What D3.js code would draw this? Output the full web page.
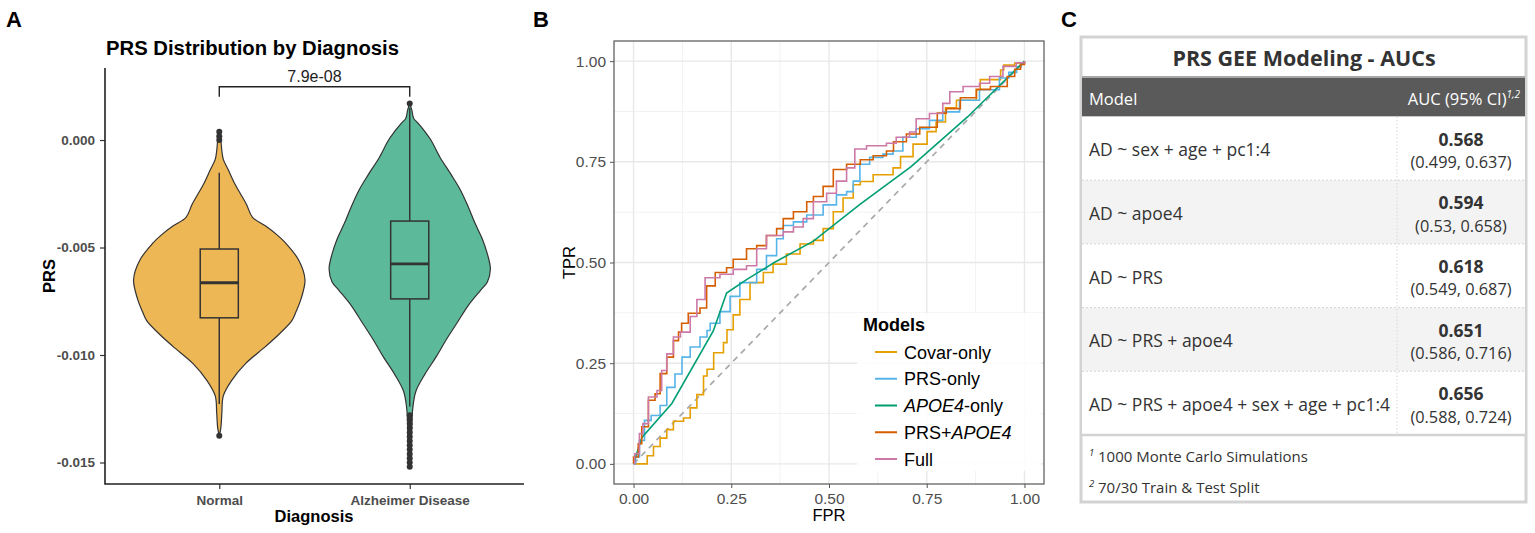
<!DOCTYPE html>
<html>
<head>
<meta charset="utf-8">
<script src="https://cdn.jsdelivr.net/npm/d3@7"></script>
<style>
  body { margin: 0; background: #fff; }
  svg { display: block; }
</style>
</head>
<body>
<svg id="fig" width="1535" height="533"></svg>
<script>
// ---- panel A data ----
var groups = ["Normal", "Alzheimer Disease"];
var groupFill = ["#EEB755", "#5CB99A"];
var prsTicks = [0, -0.005, -0.010, -0.015];

// violin outlines: [PRS value, relative density]
var normalDensity = [[0.0004, 0], [0.0000, 0.018], [-0.0005, 0.03], [-0.0009, 0.047], [-0.0014, 0.106],
  [-0.0020, 0.176], [-0.0025, 0.247], [-0.0030, 0.318], [-0.0036, 0.388], [-0.0040, 0.541],
  [-0.0044, 0.671], [-0.0048, 0.776], [-0.0056, 0.929], [-0.0065, 1.0], [-0.0074, 0.953],
  [-0.0080, 0.894], [-0.0084, 0.847], [-0.0090, 0.706], [-0.0096, 0.541], [-0.0104, 0.306],
  [-0.0112, 0.141], [-0.0119, 0.047], [-0.0127, 0.03], [-0.0134, 0.018], [-0.01375, 0]];
var adDensity = [[0.0017, 0], [0.0014, 0.024], [0.0010, 0.047], [0.0008, 0.094], [0.0004, 0.176],
  [0.0000, 0.247], [-0.0008, 0.353], [-0.0016, 0.482], [-0.0023, 0.588], [-0.0031, 0.682],
  [-0.0039, 0.765], [-0.0046, 0.847], [-0.0053, 0.906], [-0.0060, 0.941], [-0.0066, 0.906],
  [-0.0070, 0.824], [-0.0077, 0.682], [-0.0085, 0.553], [-0.0093, 0.424], [-0.0101, 0.306],
  [-0.0109, 0.176], [-0.0117, 0.071], [-0.0125, 0.035], [-0.0133, 0.024], [-0.0141, 0.018], [-0.01516, 0]];

// box stats: whisker low, q1, median, q3, whisker high
var normalBox = [-0.01228, -0.00827, -0.00664, -0.00507, -0.00152];
var adBox = [-0.0124, -0.00739, -0.00576, -0.00377, 0.0015];
var normalOutliers = [0.00039, 0.00018, 0.0000, -0.01375];
var adOutliers = [0.0017, -0.0128, -0.0130, -0.0132, -0.0134, -0.0136, -0.0138, -0.0140, -0.0142,
  -0.0144, -0.0146, -0.0148, -0.0150, -0.0152];
var pLabel = "7.9e-08";

// ---- panel B data ----
var modelNames = ["Covar-only", "PRS-only", "APOE4-only", "PRS+APOE4", "Full"];
var modelColors = ["#E69F00", "#56B4E9", "#009E73", "#D55E00", "#CC79A7"];
var rocTicks = [0, 0.25, 0.5, 0.75, 1];

var rocCovar = [[0,0],[0.024,0],[0.035,0.02],[0.051,0.043],[0.068,0.064],[0.085,0.085],[0.102,0.106],
  [0.128,0.114],[0.145,0.139],[0.162,0.172],[0.179,0.218],[0.188,0.235],[0.205,0.276],[0.23,0.301],
  [0.239,0.333],[0.255,0.37],[0.272,0.408],[0.298,0.45],[0.332,0.475],[0.357,0.496],[0.391,0.521],
  [0.426,0.546],[0.46,0.555],[0.485,0.584],[0.511,0.626],[0.536,0.66],[0.562,0.693],[0.58,0.701],
  [0.613,0.718],[0.664,0.735],[0.683,0.763],[0.715,0.794],[0.751,0.825],[0.774,0.849],[0.798,0.884],
  [0.826,0.903],[0.877,0.929],[0.887,0.954],[0.939,0.978],[0.947,0.99],[0.975,0.995],[1,1]];
var rocPrs = [[0,0],[0.005,0.017],[0.015,0.058],[0.028,0.108],[0.045,0.12],[0.068,0.145],[0.085,0.19],
  [0.106,0.223],[0.124,0.265],[0.145,0.29],[0.17,0.315],[0.188,0.331],[0.196,0.349],[0.221,0.378],
  [0.247,0.416],[0.272,0.45],[0.315,0.483],[0.34,0.517],[0.366,0.559],[0.383,0.592],[0.409,0.601],
  [0.443,0.618],[0.485,0.643],[0.519,0.668],[0.545,0.676],[0.562,0.702],[0.579,0.744],[0.604,0.761],
  [0.638,0.769],[0.664,0.777],[0.689,0.811],[0.723,0.832],[0.757,0.853],[0.791,0.874],[0.834,0.903],
  [0.885,0.929],[0.936,0.958],[0.96,0.972],[0.98,0.986],[0.992,0.995],[1,1]];
var rocApoe = [[0,0],[0.021,0.065],[0.098,0.15],[0.204,0.33],[0.238,0.424],[0.29,0.458],[0.36,0.5],
  [0.46,0.553],[0.58,0.645],[0.71,0.738],[0.855,0.862],[1,1]];
var rocPrsApoe = [[0,0],[0,0.017],[0.012,0.05],[0.021,0.092],[0.038,0.158],[0.055,0.174],[0.068,0.224],
  [0.085,0.265],[0.102,0.306],[0.115,0.327],[0.123,0.349],[0.14,0.374],[0.17,0.387],[0.187,0.442],
  [0.209,0.475],[0.238,0.487],[0.255,0.508],[0.289,0.534],[0.315,0.542],[0.34,0.567],[0.366,0.584],
  [0.383,0.609],[0.409,0.626],[0.443,0.651],[0.46,0.664],[0.485,0.689],[0.511,0.731],[0.545,0.744],
  [0.58,0.755],[0.613,0.765],[0.647,0.777],[0.665,0.8],[0.698,0.819],[0.732,0.836],[0.777,0.871],
  [0.8,0.882],[0.836,0.909],[0.877,0.93],[0.913,0.937],[0.956,0.962],[0.975,0.98],[0.99,0.992],[1,1]];
var rocFull = [[0,0],[0.003,0.025],[0.015,0.075],[0.024,0.1],[0.038,0.166],[0.06,0.182],[0.072,0.232],
  [0.085,0.273],[0.102,0.315],[0.12,0.327],[0.145,0.366],[0.162,0.408],[0.183,0.462],[0.221,0.471],
  [0.255,0.483],[0.289,0.492],[0.315,0.534],[0.34,0.567],[0.383,0.576],[0.409,0.588],[0.434,0.609],
  [0.46,0.651],[0.494,0.672],[0.519,0.702],[0.545,0.735],[0.566,0.782],[0.596,0.79],[0.647,0.796],
  [0.672,0.811],[0.706,0.824],[0.723,0.857],[0.757,0.87],[0.791,0.895],[0.809,0.924],[0.843,0.937],
  [0.885,0.945],[0.911,0.962],[0.945,0.987],[0.979,0.996],[1,1]];

// ---- panel C data ----
var tableTitle = "PRS GEE Modeling - AUCs";
var tableModels = ["AD ~ sex + age + pc1:4", "AD ~ apoe4", "AD ~ PRS", "AD ~ PRS + apoe4",
  "AD ~ PRS + apoe4 + sex + age + pc1:4"];
var tableAuc = ["0.568", "0.594", "0.618", "0.651", "0.656"];
var tableLow = ["0.499", "0.53", "0.549", "0.586", "0.588"];
var tableHigh = ["0.637", "0.658", "0.687", "0.716", "0.724"];
var footnotes = ["1000 Monte Carlo Simulations", "70/30 Train & Test Split"];

var svg = d3.select("#fig");
var gg = "'Liberation Sans', Arial, sans-serif";
var tf = "'Open Sans', 'Noto Sans', sans-serif";
var fmtHyphen = function(f) { return function(d) { return f(d).replace("\u2212", "-"); }; };

// panel letters
[["A", 6], ["B", 533], ["C", 1061]].forEach(function(p) {
  svg.append("text").attr("x", p[1]).attr("y", 27)
    .style("font-family", gg).style("font-weight", "bold").style("font-size", "22px")
    .text(p[0]);
});

// ================= Panel A =================
// ggplot discrete expansion: 0.6 units each side of centres
var unitA = (524 - 105) / 2.2;
var xA = d3.scalePoint().domain(groups).range([105 + 0.6 * unitA, 524 - 0.6 * unitA]);
var yA = d3.scaleLinear().domain([-0.01600, 0.00335]).range([484, 68]);

var gA = svg.append("g");

var violinHalf = 0.45 * unitA;
var densities = [normalDensity, adDensity];
var boxes = [normalBox, adBox];
var outliers = [normalOutliers, adOutliers];

groups.forEach(function(g, i) {
  var c = xA(g);
  var area = d3.area()
    .y(function(d) { return yA(d[0]); })
    .x0(function(d) { return c - d[1] * violinHalf; })
    .x1(function(d) { return c + d[1] * violinHalf; })
    .curve(d3.curveCatmullRom);
  gA.append("path").datum(densities[i]).attr("d", area)
    .attr("fill", groupFill[i]).attr("stroke", "#333").attr("stroke-width", 1.2);

  var b = boxes[i];
  var bw = 0.1 * unitA;
  gA.append("line").attr("x1", c).attr("x2", c).attr("y1", yA(b[0])).attr("y2", yA(b[1]))
    .attr("stroke", "#333").attr("stroke-width", 1.5);
  gA.append("line").attr("x1", c).attr("x2", c).attr("y1", yA(b[3])).attr("y2", yA(b[4]))
    .attr("stroke", "#333").attr("stroke-width", 1.5);
  gA.append("rect").attr("x", c - bw).attr("width", 2 * bw)
    .attr("y", yA(b[3])).attr("height", yA(b[1]) - yA(b[3]))
    .attr("fill", groupFill[i]).attr("stroke", "#333").attr("stroke-width", 1.5);
  gA.append("line").attr("x1", c - bw).attr("x2", c + bw).attr("y1", yA(b[2])).attr("y2", yA(b[2]))
    .attr("stroke", "#333").attr("stroke-width", 2.8);

  gA.selectAll(null).data(outliers[i]).enter().append("circle")
    .attr("cx", c).attr("cy", function(d) { return yA(d); }).attr("r", 3)
    .attr("fill", "#333");
});

// significance bracket
var brTop = 0.00248, brFoot = 0.00201;
gA.append("path")
  .attr("d", d3.line()([[xA(groups[0]), yA(brFoot)], [xA(groups[0]), yA(brTop)],
    [xA(groups[1]), yA(brTop)], [xA(groups[1]), yA(brFoot)]]))
  .attr("fill", "none").attr("stroke", "#222").attr("stroke-width", 1.4);
gA.append("text").attr("x", (xA(groups[0]) + xA(groups[1])) / 2).attr("y", yA(brTop) - 5)
  .attr("text-anchor", "middle").style("font-family", gg).style("font-size", "16px").style("fill", "#222")
  .text(pLabel);

// axes
var axYA = gA.append("g").attr("transform", "translate(105,0)")
  .call(d3.axisLeft(yA).tickValues(prsTicks).tickFormat(fmtHyphen(d3.format(".3f"))).tickSizeOuter(0).tickSize(5));
var axXA = gA.append("g").attr("transform", "translate(0,484)")
  .call(d3.axisBottom(xA).tickSize(5).tickSizeOuter(0));
[axYA, axXA].forEach(function(ax) {
  ax.select(".domain").remove();
  ax.selectAll(".tick line").attr("stroke", "#333").attr("stroke-width", 1.2);
  ax.selectAll(".tick text").style("font-family", gg).style("font-weight", "bold")
    .style("font-size", "13.5px").style("fill", "#4d4d4d");
});
axYA.selectAll(".tick text").attr("dx", "-2");
axXA.selectAll(".tick text").attr("dy", "0.95em");
gA.append("path").attr("d", "M105," + yA.range()[1] + "V484H524")
  .attr("fill", "none").attr("stroke", "#222").attr("stroke-width", 1.6);

gA.append("text").attr("x", 106).attr("y", 55)
  .style("font-family", gg).style("font-weight", "bold").style("font-size", "20.3px").text("PRS Distribution by Diagnosis");
gA.append("text").attr("x", 314).attr("y", 522).attr("text-anchor", "middle")
  .style("font-family", gg).style("font-weight", "bold").style("font-size", "16.5px").text("Diagnosis");
gA.append("text").attr("transform", "translate(55,276) rotate(-90)").attr("text-anchor", "middle")
  .style("font-family", gg).style("font-weight", "bold").style("font-size", "16.5px").text("PRS");

// ================= Panel B =================
var xB = d3.scaleLinear().domain([-0.05, 1.05]).range([614, 1044]);
var yB = d3.scaleLinear().domain([-0.05, 1.05]).range([484, 41]);
var gB = svg.append("g");

var minorTicks = [0.125, 0.375, 0.625, 0.875];
gB.selectAll(".mx").data(minorTicks).enter().append("line")
  .attr("x1", xB).attr("x2", xB).attr("y1", 41).attr("y2", 484).attr("stroke", "#f2f2f2").attr("stroke-width", 1);
gB.selectAll(".my").data(minorTicks).enter().append("line")
  .attr("y1", yB).attr("y2", yB).attr("x1", 614).attr("x2", 1044).attr("stroke", "#f2f2f2").attr("stroke-width", 1);
gB.selectAll(".gx").data(rocTicks).enter().append("line")
  .attr("x1", xB).attr("x2", xB).attr("y1", 41).attr("y2", 484).attr("stroke", "#e8e8e8").attr("stroke-width", 1.4);
gB.selectAll(".gy").data(rocTicks).enter().append("line")
  .attr("y1", yB).attr("y2", yB).attr("x1", 614).attr("x2", 1044).attr("stroke", "#e8e8e8").attr("stroke-width", 1.4);

// legend background (partly hides grid)
gB.append("rect").attr("x", 857).attr("y", 313).attr("width", 184).attr("height", 158)
  .attr("fill", "#fff").attr("fill-opacity", 0.85);

gB.append("line").attr("x1", xB(0)).attr("y1", yB(0)).attr("x2", xB(1)).attr("y2", yB(1))
  .attr("stroke", "#a9a9a9").attr("stroke-width", 1.7).attr("stroke-dasharray", "6,5");

var rocSeries = [rocCovar, rocPrs, rocApoe, rocPrsApoe, rocFull];
rocSeries.forEach(function(s, i) {
  var line = d3.line().x(function(d) { return xB(d[0]); }).y(function(d) { return yB(d[1]); })
    .curve(i === 2 ? d3.curveLinear : d3.curveStepAfter);
  gB.append("path").datum(s).attr("d", line).attr("fill", "none")
    .attr("stroke", modelColors[i]).attr("stroke-width", 1.6);
});

gB.append("rect").attr("x", 614).attr("y", 41).attr("width", 430).attr("height", 443)
  .attr("fill", "none").attr("stroke", "#555").attr("stroke-width", 1.2);

var axXB = gB.append("g").attr("transform", "translate(0,484)")
  .call(d3.axisBottom(xB).tickValues(rocTicks).tickFormat(d3.format(".2f")).tickSize(4).tickSizeOuter(0));
var axYB = gB.append("g").attr("transform", "translate(614,0)")
  .call(d3.axisLeft(yB).tickValues(rocTicks).tickFormat(d3.format(".2f")).tickSize(4).tickSizeOuter(0));
[axXB, axYB].forEach(function(ax) {
  ax.select(".domain").remove();
  ax.selectAll(".tick line").attr("stroke", "#555");
  ax.selectAll(".tick text").style("font-family", gg).style("font-size", "15.5px").style("fill", "#4d4d4d");
});
axXB.selectAll(".tick text").attr("dy", "0.85em");
axYB.selectAll(".tick text").attr("dx", "-1");

gB.append("text").attr("x", xB(0.5)).attr("y", 521).attr("text-anchor", "middle")
  .style("font-family", gg).style("font-size", "16.5px").text("FPR");
gB.append("text").attr("transform", "translate(575," + yB(0.5) + ") rotate(-90)").attr("text-anchor", "middle")
  .style("font-family", gg).style("font-size", "16.5px").text("TPR");

// legend
gB.append("text").attr("x", 863).attr("y", 331)
  .style("font-family", gg).style("font-weight", "bold").style("font-size", "18px").text("Models");
modelNames.forEach(function(m, i) {
  var y = 352 + i * 26.75;
  gB.append("line").attr("x1", 875).attr("x2", 897).attr("y1", y).attr("y2", y)
    .attr("stroke", modelColors[i]).attr("stroke-width", 2);
  var t = gB.append("text").attr("x", 904).attr("y", y + 6.5)
    .style("font-family", gg).style("font-size", "18px");
  var k = m.indexOf("APOE4");
  if (k < 0) { t.text(m); }
  else {
    t.append("tspan").text(m.slice(0, k));
    t.append("tspan").style("font-style", "italic").text("APOE4");
    t.append("tspan").text(m.slice(k + 5));
  }
});

// ================= Panel C =================
var gC = svg.append("g");
var tL = 1082, tR = 1525, colX = 1397;
var rowY = d3.scaleBand().domain(d3.range(tableModels.length)).range([116.5, 435]);

gC.append("rect").attr("x", 1081).attr("y", 37).attr("width", 445).attr("height", 465)
  .attr("fill", "#fff").attr("stroke", "#d3d3d3").attr("stroke-width", 3);
gC.append("text").attr("x", 1304).attr("y", 66).attr("text-anchor", "middle")
  .style("font-family", tf).style("font-weight", "bold").style("font-size", "21.5px").style("fill", "#333")
  .text(tableTitle);
gC.append("rect").attr("x", tL).attr("y", 77).attr("width", tR - tL).attr("height", 39)
  .attr("fill", "#5a5a5a");
gC.append("line").attr("x1", tL).attr("x2", tR).attr("y1", 77).attr("y2", 77)
  .attr("stroke", "#a8a8a8").attr("stroke-width", 2);
gC.append("text").attr("x", 1089).attr("y", 105)
  .style("font-family", tf).style("font-size", "16.5px").style("fill", "#fff").text("Model");
var hdr = gC.append("text").attr("x", 1520).attr("y", 105).attr("text-anchor", "end")
  .style("font-family", tf).style("font-size", "16.5px").style("fill", "#fff");
hdr.append("tspan").text("AUC (95% CI)");
hdr.append("tspan").attr("dy", -7).style("font-style", "italic").style("font-size", "10px").text("1,2");

tableModels.forEach(function(m, i) {
  var y0 = rowY(i), h = rowY.bandwidth();
  gC.append("rect").attr("x", tL).attr("y", y0).attr("width", tR - tL).attr("height", h)
    .attr("fill", i % 2 ? "#f3f3f3" : "#fff");
  if (i > 0) {
    gC.append("line").attr("x1", tL).attr("x2", tR).attr("y1", y0).attr("y2", y0)
      .attr("stroke", "#d6d6d6").attr("stroke-dasharray", "2,2");
  }
  gC.append("text").attr("x", 1089).attr("y", y0 + h / 2 + 8)
    .style("font-family", tf).style("font-size", "17.5px").style("fill", "#333").text(m);
  gC.append("text").attr("x", 1461).attr("y", y0 + 29).attr("text-anchor", "middle")
    .style("font-family", tf).style("font-weight", "bold").style("font-size", "17.5px").style("fill", "#333")
    .text(tableAuc[i]);
  gC.append("text").attr("x", 1461).attr("y", y0 + 51.5).attr("text-anchor", "middle")
    .style("font-family", tf).style("font-size", "16.3px").style("fill", "#333")
    .text("(" + tableLow[i] + ", " + tableHigh[i] + ")");
});
gC.append("line").attr("x1", colX).attr("x2", colX).attr("y1", 116.5).attr("y2", 435)
  .attr("stroke", "#d6d6d6").attr("stroke-dasharray", "1.5,2");
gC.append("line").attr("x1", tL).attr("x2", tR).attr("y1", 116.5).attr("y2", 116.5)
  .attr("stroke", "#c8c8c8").attr("stroke-width", 1);
gC.append("line").attr("x1", tL).attr("x2", tR).attr("y1", 435).attr("y2", 435)
  .attr("stroke", "#d3d3d3").attr("stroke-width", 2.5);

footnotes.forEach(function(f, i) {
  var yb = 462 + i * 31;
  gC.append("text").attr("x", 1089).attr("y", yb - 6)
    .style("font-family", tf).style("font-style", "italic").style("font-size", "9.5px").style("fill", "#333")
    .text(String(i + 1));
  gC.append("text").attr("x", 1098).attr("y", yb)
    .style("font-family", tf).style("font-size", "15px").style("fill", "#333").text(f);
});
</script>
</body>
</html>
